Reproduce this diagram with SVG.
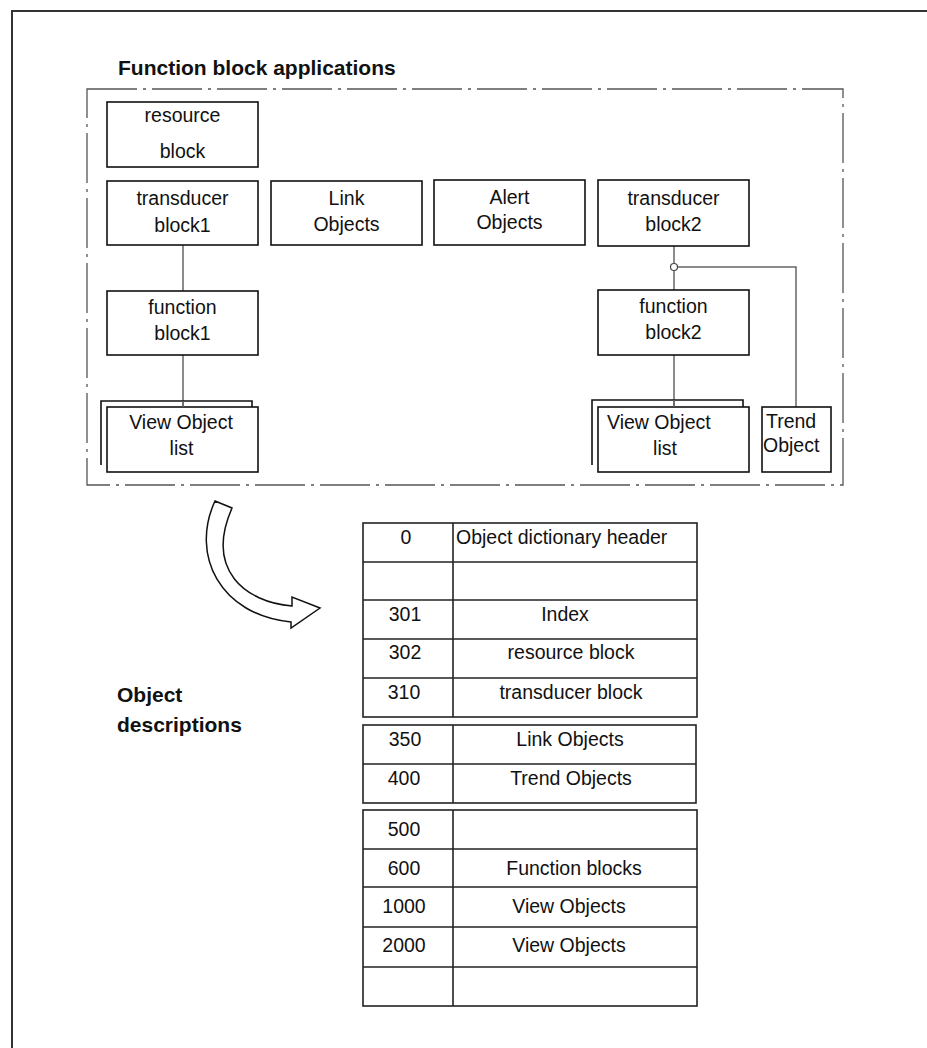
<svg xmlns="http://www.w3.org/2000/svg" width="927" height="1048" viewBox="0 0 927 1048">
<style>
.box{fill:#fff;stroke:#111;stroke-width:1.6}
.t{font-family:"Liberation Sans",Arial,sans-serif;font-size:19.5px;fill:#111;text-anchor:middle}
.ts{font-family:"Liberation Sans",Arial,sans-serif;font-size:19.5px;fill:#111}
.h{font-family:"Liberation Sans",Arial,sans-serif;font-size:21px;font-weight:bold;fill:#111}
.conn{stroke:#666;stroke-width:1.5;fill:none}
.cell{fill:#fff;stroke:#222;stroke-width:1.6}
.ln{stroke:#222;stroke-width:1.6}
</style>
<rect width="927" height="1048" fill="#fff"/>
<path d="M12,1048 V11 H927" fill="none" stroke="#333" stroke-width="2"/>
<text class="h" x="118" y="75">Function block applications</text>
<rect x="87" y="89" width="756" height="396" fill="none" stroke="#555" stroke-width="1.3" stroke-dasharray="50 6 3 6"/>

<g id="connectors">
<line class="conn" x1="183" y1="245" x2="183" y2="291"/>
<line class="conn" x1="183" y1="355" x2="183" y2="407"/>
<line class="conn" x1="674" y1="246" x2="674" y2="263.5"/>
<line class="conn" x1="674" y1="270.5" x2="674" y2="290"/>
<polyline class="conn" points="677.5,267 796,267 796,407"/>
<circle cx="674" cy="267" r="3.5" fill="#fff" stroke="#444" stroke-width="1.2"/>
<line class="conn" x1="674" y1="355" x2="674" y2="407"/>
</g>

<g id="resource-block">
<rect class="box" x="107" y="102" width="151" height="65"/>
<text class="t" x="182.5" y="122">resource</text>
<text class="t" x="182.5" y="158">block</text>
</g>
<g id="transducer-block1">
<rect class="box" x="107" y="181" width="151" height="64"/>
<text class="t" x="182.5" y="205">transducer</text>
<text class="t" x="182.5" y="232">block1</text>
</g>
<g id="link-objects">
<rect class="box" x="271" y="181" width="151" height="64"/>
<text class="t" x="346.5" y="205">Link</text>
<text class="t" x="346.5" y="231">Objects</text>
</g>
<g id="alert-objects">
<rect class="box" x="434" y="180" width="151" height="65"/>
<text class="t" x="509.5" y="204">Alert</text>
<text class="t" x="509.5" y="229">Objects</text>
</g>
<g id="transducer-block2">
<rect class="box" x="598" y="180" width="151" height="66"/>
<text class="t" x="673.5" y="205">transducer</text>
<text class="t" x="673.5" y="231">block2</text>
</g>
<g id="function-block1">
<rect class="box" x="107" y="291" width="151" height="64"/>
<text class="t" x="182.5" y="314">function</text>
<text class="t" x="182.5" y="340">block1</text>
</g>
<g id="function-block2">
<rect class="box" x="598" y="290" width="151" height="65"/>
<text class="t" x="673.5" y="313">function</text>
<text class="t" x="673.5" y="339">block2</text>
</g>
<g id="view-object-list1">
<path d="M101,465 V401 H252 V407" fill="none" stroke="#111" stroke-width="1.6"/>
<rect class="box" x="107" y="407" width="151" height="65"/>
<line class="conn" x1="183" y1="401" x2="183" y2="407"/>
<text class="t" x="181" y="429">View Object</text>
<text class="t" x="181.5" y="455">list</text>
</g>
<g id="view-object-list2">
<path d="M592,465 V400 H743 V407" fill="none" stroke="#111" stroke-width="1.6"/>
<rect class="box" x="598" y="407" width="151" height="65"/>
<line class="conn" x1="674" y1="400" x2="674" y2="407"/>
<text class="ts" x="607" y="429">View Object</text>
<text class="t" x="665" y="455">list</text>
</g>
<g id="trend-object">
<rect class="box" x="762" y="407" width="69" height="65"/>
<text class="ts" x="766" y="428">Trend</text>
<text class="ts" x="763" y="452">Object</text>
</g>

<g id="arrow">
<path d="M215,501 L232,508 C205,570 245,602 292,606 L292,597 L320,608 L291,628 L291,622 C220,615 190,555 215,501 Z" fill="#fff" stroke="#111" stroke-width="1.5" stroke-linejoin="miter"/>
</g>

<text class="h" x="117" y="702">Object</text>
<text class="h" x="117" y="732">descriptions</text>

<g id="object-dictionary">
<rect class="cell" x="363" y="523" width="334" height="194"/>
<line class="ln" x1="363" y1="562" x2="697" y2="562"/>
<line class="ln" x1="363" y1="600" x2="697" y2="600"/>
<line class="ln" x1="363" y1="639" x2="697" y2="639"/>
<line class="ln" x1="363" y1="678" x2="697" y2="678"/>
<line class="ln" x1="453" y1="523" x2="453" y2="717"/>
<rect class="cell" x="363" y="725" width="333" height="78"/>
<line class="ln" x1="363" y1="764" x2="696" y2="764"/>
<line class="ln" x1="453" y1="725" x2="453" y2="803"/>
<rect class="cell" x="363" y="810" width="334" height="196"/>
<line class="ln" x1="363" y1="849" x2="697" y2="849"/>
<line class="ln" x1="363" y1="887" x2="697" y2="887"/>
<line class="ln" x1="363" y1="927" x2="697" y2="927"/>
<line class="ln" x1="363" y1="967" x2="697" y2="967"/>
<line class="ln" x1="453" y1="810" x2="453" y2="1006"/>
<text class="t" x="406" y="544">0</text>
<text class="ts" x="456" y="544">Object dictionary header</text>
<text class="t" x="405" y="621">301</text>
<text class="t" x="565" y="621">Index</text>
<text class="t" x="405" y="659">302</text>
<text class="t" x="571" y="659">resource block</text>
<text class="t" x="404" y="699">310</text>
<text class="t" x="571" y="699">transducer block</text>
<text class="t" x="405" y="746">350</text>
<text class="t" x="570" y="746">Link Objects</text>
<text class="t" x="404" y="785">400</text>
<text class="t" x="571" y="785">Trend Objects</text>
<text class="t" x="404" y="836">500</text>
<text class="t" x="574" y="875">Function blocks</text>
<text class="t" x="404" y="875">600</text>
<text class="t" x="404" y="913">1000</text>
<text class="t" x="569" y="913">View Objects</text>
<text class="t" x="404" y="952">2000</text>
<text class="t" x="569" y="952">View Objects</text>
</g>
</svg>
